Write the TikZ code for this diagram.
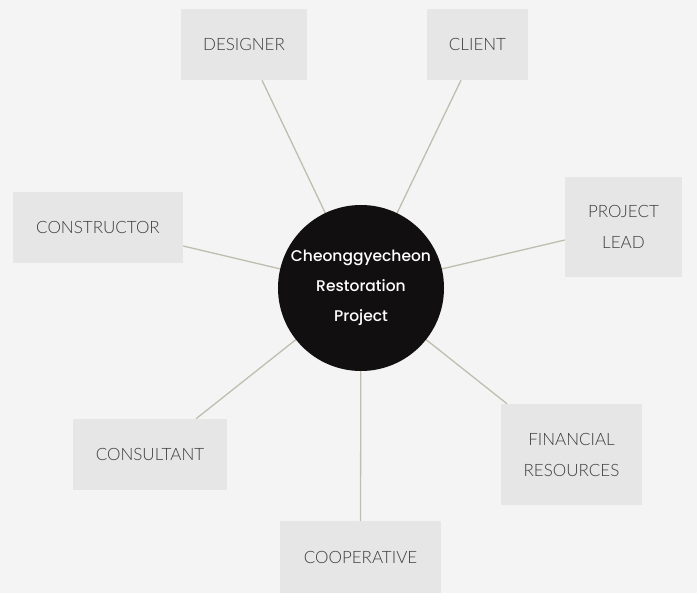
\documentclass[tikz,border=0pt]{standalone}
\usepackage{fontspec}
\setmainfont{Lato}[UprightFont=* Light]
\newfontfamily\hubfont{Poppins}[UprightFont=* Medium]
\usetikzlibrary{positioning}
\definecolor{bgcol}{RGB}{244,244,244}
\definecolor{boxgrey}{RGB}{230,230,230}
\definecolor{boxtext}{RGB}{60,60,60}
\definecolor{spoke}{RGB}{190,190,176}
\definecolor{hubblack}{RGB}{17,15,15}

\begin{document}
\begin{tikzpicture}[
  x=1pt, y=-1pt,
  role/.style={rectangle, fill=boxgrey, inner sep=0pt, align=center,
    text=boxtext, font=\fontsize{17}{31}\selectfont},
  hub/.style={circle, fill=hubblack, minimum size=166pt, inner sep=0pt,
    align=center, text=white, font=\hubfont\fontsize{15.5}{30}\selectfont},
  link/.style={draw=spoke, line width=1.3pt}
]
  \fill[bgcol] (0,0) rectangle (697,593);
  \useasboundingbox (0,0) rectangle (697,593);

  \coordinate (c) at (361,288);

  \node[role, minimum width=126pt, minimum height=71pt] (designer) at (244,44.5) {DESIGNER};
  \node[role, minimum width=101pt, minimum height=71pt] (client) at (477.5,44.5) {CLIENT};
  \node[role, minimum width=170pt, minimum height=71pt] (constructor) at (98,227.5) {CONSTRUCTOR};
  \node[role, minimum width=117pt, minimum height=100pt] (lead) at (623.5,227) {PROJECT\\LEAD};
  \node[role, minimum width=154pt, minimum height=71pt] (consultant) at (150,454.5) {CONSULTANT};
  \node[role, minimum width=141pt, minimum height=101pt] (finance) at (571.5,454.5) {FINANCIAL\\RESOURCES};
  \node[role, minimum width=161pt, minimum height=72pt] (coop) at (360.5,557) {COOPERATIVE};

  % spokes first, hub on top
  \draw[link] (c) -- ([xshift=18pt]designer.south);
  \draw[link] (c) -- ([xshift=-16.5pt]client.south);
  \draw[link] (c) -- ([yshift=-18.5pt]constructor.east);
  \draw[link] (c) -- ([yshift=-13pt]lead.west);
  \draw[link] (c) -- ([xshift=46pt]consultant.north);
  \draw[link] (c) -- ([xshift=-64.5pt]finance.north);
  \draw[link] (c) -- (coop.north);

  \node[hub] (hub) at (c) {Cheonggyecheon\\Restoration\\Project};
\end{tikzpicture}
\end{document}
